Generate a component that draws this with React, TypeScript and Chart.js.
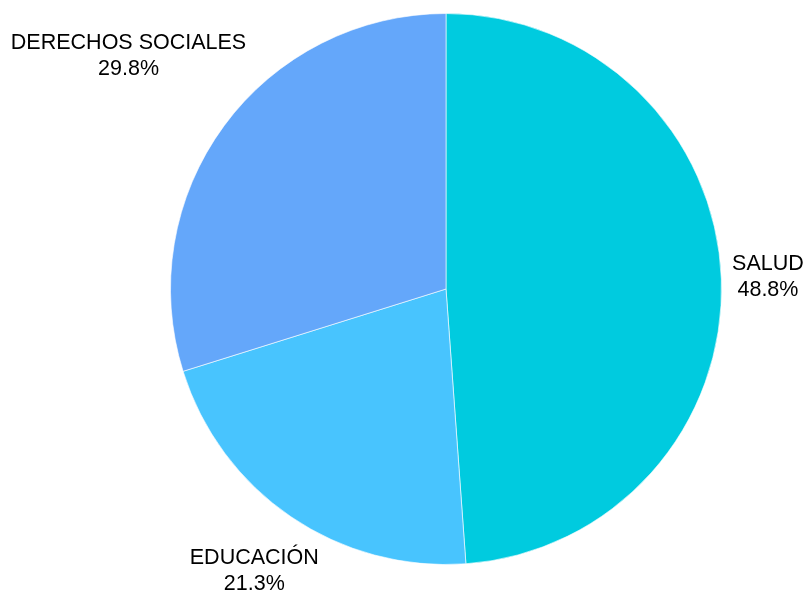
import React, { useEffect, useRef } from "react";
import { Chart, registerables } from "chart.js";

Chart.register(...registerables);

const categories: string[] = ["SALUD", "EDUCACIÓN", "DERECHOS SOCIALES"];
const values: number[] = [48.8, 21.3, 29.8];
const percentLabels: string[] = ["48.8%", "21.3%", "29.8%"];
const colors: string[] = ["#00CBDF", "#48C4FE", "#64A7FA"];

const outsideLabels = {
  id: "outsideLabels",
  afterDatasetsDraw(chart: any) {
    const ctx = chart.ctx;
    const meta = chart.getDatasetMeta(0);
    ctx.save();
    ctx.font = '21.5px "Liberation Sans", Arial, sans-serif';
    ctx.fillStyle = "#000000";
    ctx.textAlign = "center";
    ctx.textBaseline = "middle";
    const lineH = 26;
    meta.data.forEach((arc: any, i: number) => {
      const { x, y, startAngle, endAngle, outerRadius } = arc.getProps(
        ["x", "y", "startAngle", "endAngle", "outerRadius"],
        true
      );
      const mid = (startAngle + endAngle) / 2;
      const dx = Math.cos(mid);
      const dy = Math.sin(mid);
      const lines = [categories[i], percentLabels[i]];
      const w = Math.max(...lines.map((l) => ctx.measureText(l).width));
      const halfW = w / 2;
      const halfH = 23;
      const extent = Math.abs(dx) * halfW + Math.abs(dy) * halfH;
      const t = outerRadius + 10 + extent;
      const cx = x + dx * t;
      const cy = y + dy * t;
      ctx.fillText(lines[0], cx, cy - lineH / 2);
      ctx.fillText(lines[1], cx, cy + lineH / 2);
    });
    ctx.restore();
  },
};

export default function App() {
  const canvasRef = useRef<HTMLCanvasElement | null>(null);

  useEffect(() => {
    if (!canvasRef.current) return;
    const chart = new Chart(canvasRef.current, {
      type: "pie",
      data: {
        labels: categories,
        datasets: [
          {
            data: values,
            backgroundColor: colors,
            borderColor: "rgba(255,255,255,0.6)",
            borderWidth: 1,
          },
        ],
      },
      options: {
        animation: false,
        responsive: false,
        maintainAspectRatio: false,
        layout: { padding: { left: 170, right: 86, top: 13, bottom: 34 } },
        plugins: {
          legend: { display: false },
          tooltip: { enabled: false },
        },
      },
      plugins: [outsideLabels],
    });
    return () => chart.destroy();
  }, []);

  return (
    <div style={{ position: "fixed", left: 0, top: 0, width: 808, height: 599, background: "#fff" }}>
      <canvas ref={canvasRef} width={808} height={599} style={{ display: "block" }} />
    </div>
  );
}
